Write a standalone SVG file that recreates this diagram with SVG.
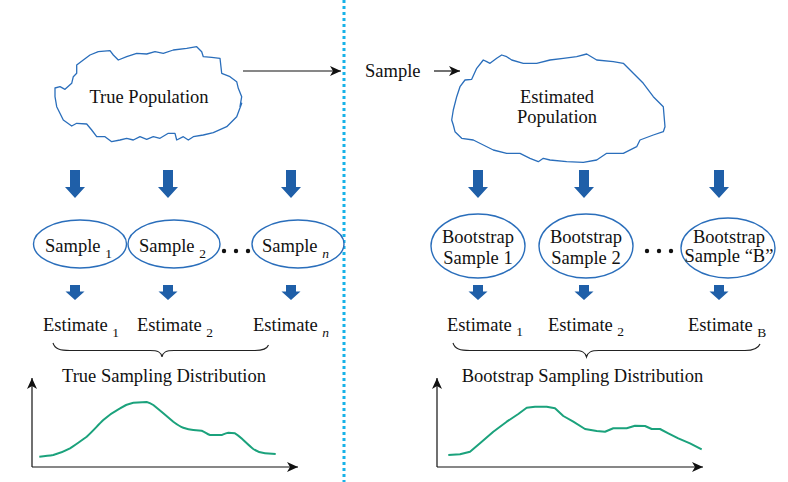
<svg xmlns="http://www.w3.org/2000/svg" width="788" height="482" viewBox="0 0 788 482">
<style>
  .t { font-family: "Liberation Serif", "Times New Roman", serif; font-size: 18.5px; fill: #111; }
  .sub { font-size: 13.5px; }
  .cloud { fill: #fff; stroke: #2a6ebb; stroke-width: 1.3; stroke-linejoin: round; }
  .ell { fill: #fff; stroke: #2a6ebb; stroke-width: 1.4; }
  .blue { fill: #1f5fa8; }
  .dot { fill: #111; }
  .ln { stroke: #111; stroke-width: 1.2; fill: none; }
  .curve { stroke: #1ba27c; stroke-width: 2; fill: none; stroke-linejoin: round; }
  .brace { stroke: #222; stroke-width: 1.1; fill: none; }
</style>
<defs>
  <marker id="ah" markerWidth="12" markerHeight="10" refX="11" refY="5" orient="auto" markerUnits="userSpaceOnUse">
    <path d="M0,0 L11,5 L0,10 L3,5 Z" fill="#111"/>
  </marker>
  <path id="bigArrow" d="M-5,0 L5,0 L5,17 L10,17 L0,28 L-10,17 L-5,17 Z"/>
  <path id="smallArrow" d="M-5,0 L5,0 L5,6.5 L9.5,6.5 L0,15 L-9.5,6.5 L-5,6.5 Z"/>
</defs>
<rect width="788" height="482" fill="#fff"/>

<!-- divider -->
<line x1="344" y1="0" x2="344" y2="482" stroke="#17b2e8" stroke-width="3" stroke-dasharray="3 3"/>

<g id="true-population">
  <path class="cloud" d="M55,88 L60,86.7 L65,89.3 L71.7,83.3 L73.3,76.7 L76.7,73.3 L76.7,65 L83.3,60 L90,55 L98.3,51.7 L110,50.7 L113.3,55 L118.3,60 L126.7,56.7 L136.7,53.3 L146.7,54 L155,51.7 L163.3,53.3 L173.3,50 L186.7,48.3 L196.7,46.7 L201.7,51.7 L203.3,56.7 L211.7,57.3 L220,58.3 L221.7,73.3 L230,76.7 L236.7,81.7 L238.3,88.3 L241.7,96.7 L240,106.7 L241.7,103.3 L236.7,116.7 L226.7,126.7 L213.3,132.7 L203.3,135 L193.3,136.7 L188.3,140 L183.3,136.7 L176.7,140 L175,133.3 L168.3,133.3 L160,138.3 L153.3,136.7 L146.7,139.3 L140,136.7 L133.3,140 L126.7,138.3 L120,140 L111.7,141.7 L105,136.7 L96.7,136.7 L91.7,130 L86.7,124 L76.7,123.3 L71.7,126 L63.3,120 L56.7,106.7 L55,96.7 Z"/>
  <text class="t" x="149" y="103" text-anchor="middle">True Population</text>
</g>

<g id="sample-label">
  <text class="t" x="365" y="77">Sample</text>
</g>

<g id="estimated-population">
  <path class="cloud" d="M451.7,120 L453.3,110 L456.7,96.7 L460,86.7 L465,80 L471.7,79.3 L476.7,68.3 L483.3,60 L486.7,61.7 L490,63.3 L496.7,58.3 L501.7,55 L506.7,56.7 L511.7,60 L523.3,63.3 L536.7,63.3 L550,60 L563.3,58.3 L576.7,56.7 L586.7,54 L596.7,60 L613.3,61.7 L623.3,63.3 L633.3,73.3 L643.3,83.3 L653.3,96.7 L663.3,106.7 L665,126.7 L663.3,131.7 L653.3,135 L640,140 L636.7,146.7 L623.3,153.3 L606.7,153.3 L596.7,160 L583.3,162.3 L566.7,161.7 L550,160 L543.3,158.3 L538.3,161.7 L530,158.3 L520,153.3 L506.7,153.3 L493.3,150 L483.3,145 L473.3,140 L461.7,138.3 L455,131.7 L453.3,125 Z"/>
  <text class="t" x="557" y="103" text-anchor="middle">Estimated</text>
  <text class="t" x="557" y="123" text-anchor="middle">Population</text>
</g>

<!-- left samples -->
<g id="sample-1">
  <ellipse class="ell" cx="80" cy="244" rx="46.5" ry="24"/>
  <text class="t" x="45" y="252">Sample <tspan class="sub" dy="6">1</tspan></text>
</g>
<g id="sample-2">
  <ellipse class="ell" cx="174" cy="244" rx="46" ry="24"/>
  <text class="t" x="139" y="252">Sample <tspan class="sub" dy="6">2</tspan></text>
</g>
<g id="sample-n">
  <ellipse class="ell" cx="298" cy="244" rx="46" ry="24"/>
  <text class="t" x="262" y="252">Sample <tspan class="sub" dy="6" font-style="italic">n</tspan></text>
</g>
<g id="dots-left">
  <circle class="dot" cx="224" cy="251" r="2.2"/>
  <circle class="dot" cx="236" cy="251" r="2.2"/>
  <circle class="dot" cx="248" cy="251" r="2.2"/>
</g>

<!-- right bootstrap samples -->
<g id="bootstrap-1">
  <ellipse class="ell" cx="478" cy="246" rx="47" ry="32"/>
  <text class="t" x="478" y="243" text-anchor="middle">Bootstrap</text>
  <text class="t" x="478" y="264" text-anchor="middle">Sample 1</text>
</g>
<g id="bootstrap-2">
  <ellipse class="ell" cx="586" cy="246" rx="47" ry="32"/>
  <text class="t" x="586" y="243" text-anchor="middle">Bootstrap</text>
  <text class="t" x="586" y="264" text-anchor="middle">Sample 2</text>
</g>
<g id="bootstrap-b">
  <ellipse class="ell" cx="728" cy="248" rx="47" ry="30"/>
  <text class="t" x="729" y="243" text-anchor="middle">Bootstrap</text>
  <text class="t" x="729" y="262" text-anchor="middle">Sample “B”</text>
</g>
<g id="dots-right">
  <circle class="dot" cx="647" cy="251" r="2.2"/>
  <circle class="dot" cx="659" cy="251" r="2.2"/>
  <circle class="dot" cx="671" cy="251" r="2.2"/>
</g>

<!-- estimates -->
<g id="estimate-1">
  <text class="t" x="43" y="331">Estimate <tspan class="sub" dy="6">1</tspan></text>
</g>
<g id="estimate-2">
  <text class="t" x="137" y="331">Estimate <tspan class="sub" dy="6">2</tspan></text>
</g>
<g id="estimate-n">
  <text class="t" x="253" y="331">Estimate <tspan class="sub" dy="6" font-style="italic">n</tspan></text>
</g>
<g id="bestimate-1">
  <text class="t" x="447" y="331">Estimate <tspan class="sub" dy="5">1</tspan></text>
</g>
<g id="bestimate-2">
  <text class="t" x="548" y="331">Estimate <tspan class="sub" dy="5">2</tspan></text>
</g>
<g id="bestimate-b">
  <text class="t" x="688" y="331">Estimate <tspan class="sub" dy="6">B</tspan></text>
</g>

<!-- braces -->
<g id="brace-left">
  <path class="brace" d="M53,343 C55,349 60,350.5 70,350.5 L150,350.5 C158,350.5 161,352 162,357 C163,352 166,350.5 174,350.5 L255,350.5 C263,350.5 267,349 268.5,345"/>
</g>
<g id="brace-right">
  <path class="brace" d="M453,343 C455,349 460,350.5 470,350.5 L574,350.5 C582,350.5 585,352 586.5,357 C588,352 591,350.5 599,350.5 L745,350.5 C753,350.5 758,349 760,344"/>
</g>

<g id="true-dist">
  <text class="t" x="164" y="382" text-anchor="middle">True Sampling Distribution</text>
  <line class="ln" x1="32" y1="467" x2="32" y2="378" marker-end="url(#ah)"/>
  <line class="ln" x1="32" y1="467" x2="298" y2="467" marker-end="url(#ah)"/>
  <path class="curve" d="M39.3,456.7 C46,456 50,455.5 53.3,455 C60,453 65,451 70,448.3 C77,444 82,440 86.7,436.7 C93,431 98,425 103.3,420 C110,414 115,411 120,408.3 C125,405 129,403.5 133.3,402.7 L146.7,402 C149,402.5 151,403.5 153.3,405 C157,408 160,410.5 163.3,413.3 C167,416.5 170,419 173.3,421.7 C177,424.5 180,426.5 183.3,427.7 C187,429 190,429.7 193.3,430 L201.7,430.7 C205,432 207,434 210,435 L221.7,435 C224,434 226,433 228.3,432.7 L235,433.3 C238,435 240,437 243.3,440 C247,443.5 250,446.5 253.3,449 C257,451.5 261,453 265,453.3 L275.7,454"/>
</g>

<g id="bootstrap-dist">
  <text class="t" x="582.5" y="382" text-anchor="middle">Bootstrap Sampling Distribution</text>
  <line class="ln" x1="437" y1="467" x2="437" y2="378" marker-end="url(#ah)"/>
  <line class="ln" x1="437" y1="467" x2="703" y2="467" marker-end="url(#ah)"/>
  <path class="curve" d="M448.3,455 L460,454.3 L470,451.7 L480,443.3 L493.3,431.7 L506.7,421.7 L518.3,414 L526.7,407.7 L535,406.7 L546.7,406.7 L555,408.3 L563.3,416 L573.3,421.7 L585,429 L596.7,431 L605,431.7 L613.3,428.3 L626.7,428.3 L635,425.7 L645,426 L651.7,429 L660,429 L668.3,433.3 L678.3,438.3 L690,443.3 L701.7,449.3"/>
</g>

<g id="connectors">
  <line class="ln" x1="243" y1="71" x2="341" y2="71" marker-end="url(#ah)"/>
  <line class="ln" x1="434" y1="71" x2="460" y2="71" marker-end="url(#ah)"/>
  <use href="#bigArrow" class="blue" x="75" y="170"/>
  <use href="#bigArrow" class="blue" x="168" y="170"/>
  <use href="#bigArrow" class="blue" x="291" y="170"/>
  <use href="#bigArrow" class="blue" x="478" y="170"/>
  <use href="#bigArrow" class="blue" x="584" y="170"/>
  <use href="#bigArrow" class="blue" x="719" y="170"/>
  <use href="#smallArrow" class="blue" x="75" y="285"/>
  <use href="#smallArrow" class="blue" x="168" y="285"/>
  <use href="#smallArrow" class="blue" x="291" y="285"/>
  <use href="#smallArrow" class="blue" x="478" y="285"/>
  <use href="#smallArrow" class="blue" x="584" y="285"/>
  <use href="#smallArrow" class="blue" x="719" y="285"/>
</g>
</svg>
